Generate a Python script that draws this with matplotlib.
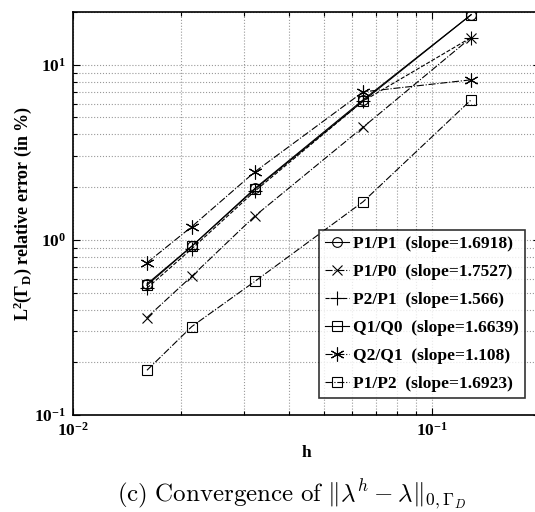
import matplotlib
matplotlib.use("Agg")
import matplotlib.pyplot as plt
from matplotlib.ticker import FuncFormatter, LogLocator, NullFormatter
import numpy as np

plt.rcParams['font.family'] = ['Liberation Serif', 'DejaVu Serif']
plt.rcParams['font.weight'] = 'bold'
plt.rcParams['mathtext.fontset'] = 'custom'
plt.rcParams['mathtext.rm'] = 'Liberation Serif:bold'
plt.rcParams['mathtext.bf'] = 'Liberation Serif:bold'
plt.rcParams['mathtext.it'] = 'Liberation Serif:bold'

h = [0.01607, 0.02143, 0.03214, 0.06429, 0.12857]

labels = ["P1/P1  (slope=1.6918)", "P1/P0  (slope=1.7527)", "P2/P1  (slope=1.566)",
          "Q1/Q0  (slope=1.6639)", "Q2/Q1  (slope=1.108)", "P1/P2  (slope=1.6923)"]
err_p1p1 = [0.56, 0.92, 1.97, 6.3, 19.3]
err_p1p0 = [0.36, 0.62, 1.37, 4.4, 14.3]
err_p2p1 = [0.53, 0.89, 1.90, 6.2, 14.3]
err_q1q0 = [0.55, 0.92, 1.95, 6.2, 19.3]
err_q2q1 = [0.74, 1.19, 2.45, 7.0, 8.2]
err_p1p2 = [0.18, 0.32, 0.58, 1.65, 6.3]

series = [err_p1p1, err_p1p0, err_p2p1, err_q1q0, err_q2q1, err_p1p2]
markers = ['o', 'x', '+', 's', (6, 2, 0), 's']
styles = ['-', '-.', '--', '-', '-.', '-.']
msizes = [7, 7, 10, 7, 10, 7]

fig = plt.figure(figsize=(5.35, 5.12), dpi=100)
ax = fig.add_axes([73/535, 97/512, 467/535, 403/512])

for y, m, ls, ms, lab in zip(series, markers, styles, msizes, labels):
    ax.plot(h, y, linestyle=ls, marker=m, color='black', lw=0.8, markersize=ms,
            markerfacecolor='none', markeredgewidth=0.8, label=lab)

ax.set_xscale('log')
ax.set_yscale('log')
ax.set_xlim(0.01, 0.2)
ax.set_ylim(0.1, 20)

fmt = FuncFormatter(lambda v, p: r'$\mathbf{10^{%d}}$' % int(round(np.log10(v))))
ax.xaxis.set_major_locator(LogLocator(base=10, numticks=10))
ax.yaxis.set_major_locator(LogLocator(base=10, numticks=10))
ax.xaxis.set_major_formatter(fmt)
ax.yaxis.set_major_formatter(fmt)
ax.xaxis.set_minor_formatter(NullFormatter())
ax.yaxis.set_minor_formatter(NullFormatter())
ax.tick_params(which='both', direction='in', top=True, right=True, labelsize=12.5, width=0.8)
ax.tick_params(which='major', length=5, pad=5)
ax.tick_params(which='minor', length=3)
ax.grid(True, which='both', linestyle=':', color='#999999', lw=0.8)
for s in ax.spines.values():
    s.set_linewidth(1.2)

ax.set_xlabel('h', fontsize=12.5, fontweight='bold', labelpad=4)
ax.set_ylabel(r'$\mathbf{L^2(\Gamma_D)}$ relative error (in %)', fontsize=13, fontweight='bold', labelpad=0)

leg = ax.legend(loc='upper left', bbox_to_anchor=((319-73)/467, (415-230)/403),
                prop={'family': 'Liberation Serif', 'weight': 'bold', 'size': 12.5},
                frameon=True, fancybox=False, edgecolor='black', handlelength=1.4,
                handletextpad=0.2, labelspacing=0.68, borderpad=0.35, borderaxespad=0)
leg.get_frame().set_linewidth(1.2)

fig.text(0.545, 0.034, r'$\mathrm{(c)\ Convergence\ of\ }\|\lambda^h - \lambda\|_{0,\Gamma_D}$',
         ha='center', va='center', fontsize=18, math_fontfamily='cm')

fig.savefig('out.png', dpi=100)
